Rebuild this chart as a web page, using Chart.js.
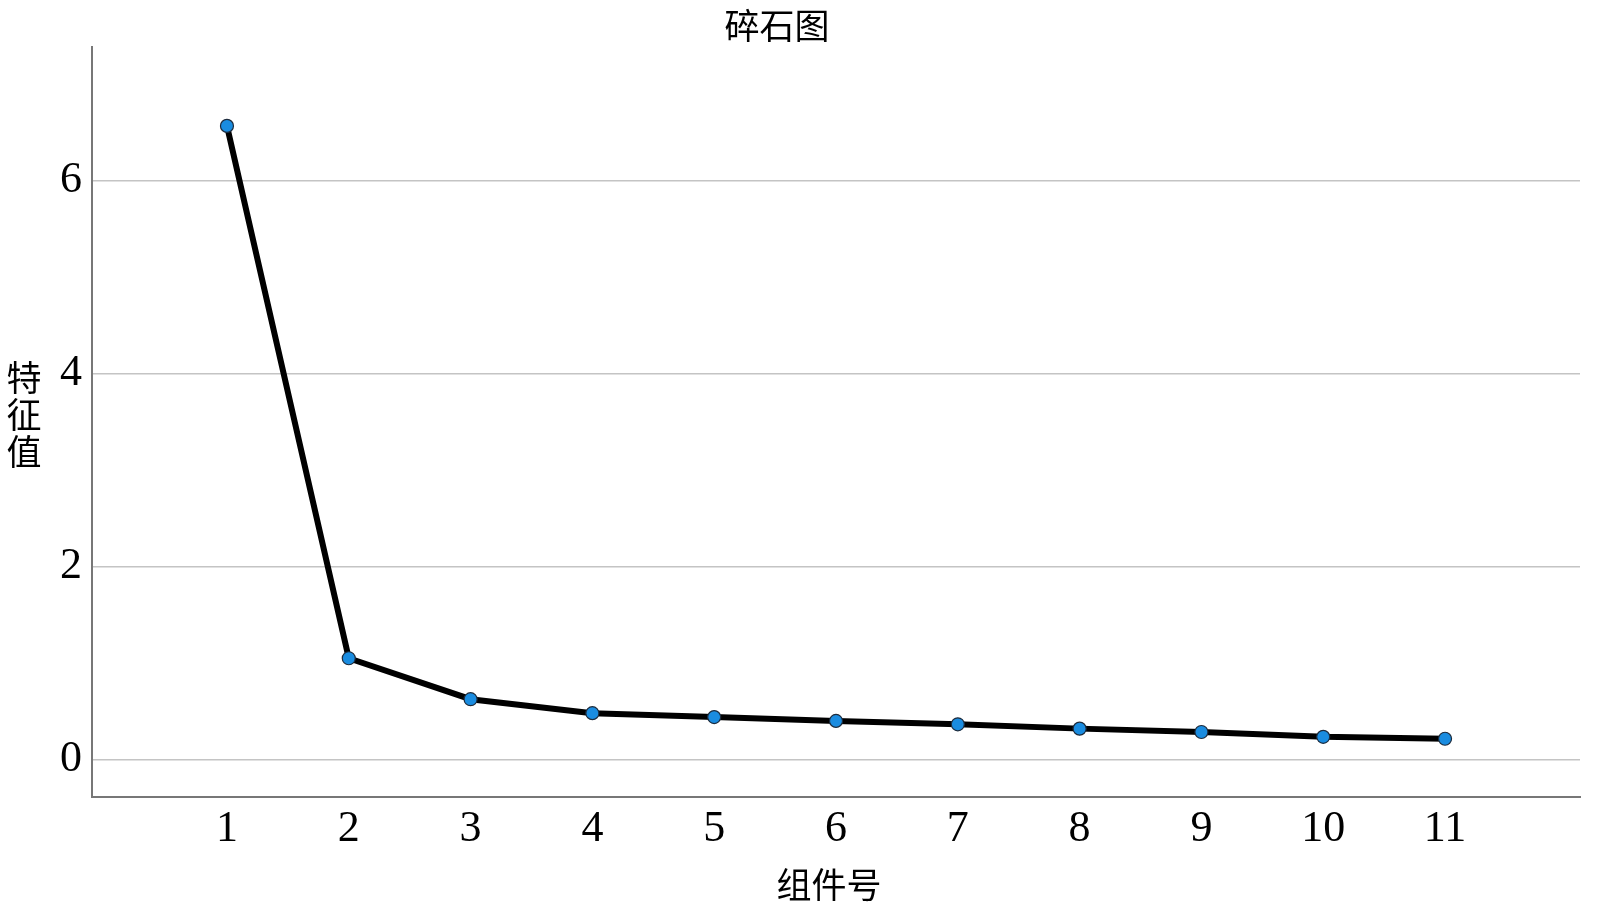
<!DOCTYPE html>
<html>
<head>
<meta charset="utf-8">
<script src="https://cdn.jsdelivr.net/npm/chart.js@4.4.1/dist/chart.umd.min.js"></script>
<style>
  html, body { margin: 0; padding: 0; background: #ffffff; }
  #wrap { width: 1600px; height: 914px; position: relative; }
</style>
</head>
<body>
<div id="wrap"><canvas id="chart"></canvas></div>
<script>
const chartTitle = "碎石图";
const xTitle = "组件号";
const yTitle = ["特", "征", "值"];
const components = [1, 2, 3, 4, 5, 6, 7, 8, 9, 10, 11];
const eigenvalues = [6.57, 1.05, 0.625, 0.48, 0.44, 0.40, 0.365, 0.32, 0.285, 0.235, 0.215];
const yTicks = [0, 2, 4, 6];

const serif = "'Liberation Serif', 'Times New Roman', serif";
const cjk = "'Noto Sans CJK SC', 'Noto Sans', sans-serif";

const labelsPlugin = {
    id: "labels",
    afterDraw(chart) {
        const ctx = chart.ctx;
        ctx.save();
        ctx.fillStyle = "#000000";
        ctx.font = "35px " + cjk;
        ctx.textAlign = "center";
        ctx.textBaseline = "middle";
        ctx.fillText(chartTitle, 777, 26);
        ctx.fillText(xTitle, 829, 885);
        yTitle.forEach((ch, i) => {
            ctx.fillText(ch, 24, 378 + i * 37);
        });
        ctx.restore();
    },
};

const context = document.getElementById("chart").getContext("2d");
new Chart(context, {
    type: "line",
    data: {
        datasets: [
            {
                data: components.map((c, i) => ({ x: c, y: eigenvalues[i] })),
                borderColor: "#000000",
                borderWidth: 6,
                backgroundColor: "#1a8ce0",
                pointBackgroundColor: "#1a8ce0",
                pointBorderColor: "#1d2b3c",
                pointBorderWidth: 1.2,
                pointRadius: 6.5,
                tension: 0,
                fill: false,
            },
        ],
    },
    options: {
        responsive: true,
        maintainAspectRatio: false,
        animation: false,
        layout: { padding: { left: 0, top: 47, right: 20, bottom: 0 } },
        plugins: {
            legend: { display: false },
            title: { display: false },
            tooltip: { enabled: false },
        },
        scales: {
            x: {
                type: "linear",
                min: -0.108,
                max: 12.108,
                afterBuildTicks: (scale) => {
                    scale.ticks = components.map((v) => ({ value: v }));
                },
                afterFit: (scale) => {
                    scale.height = 117;
                },
                grid: { display: false, drawTicks: false },
                border: { display: true, color: "#777777", width: 2 },
                ticks: {
                    color: "#000000",
                    padding: 6,
                    autoSkip: false,
                    maxRotation: 0,
                    font: { family: serif, size: 44 },
                },
            },
            y: {
                min: -0.389,
                max: 7.388,
                afterBuildTicks: (scale) => {
                    scale.ticks = yTicks.map((v) => ({ value: v }));
                },
                afterFit: (scale) => {
                    scale.width = 92;
                },
                grid: { color: "#c4c4c4", lineWidth: 1.5, drawTicks: false },
                border: { display: true, color: "#777777", width: 2 },
                ticks: {
                    color: "#000000",
                    padding: 10,
                    font: { family: serif, size: 44 },
                },
            },
        },
    },
    plugins: [labelsPlugin],
});
</script>
</body>
</html>
